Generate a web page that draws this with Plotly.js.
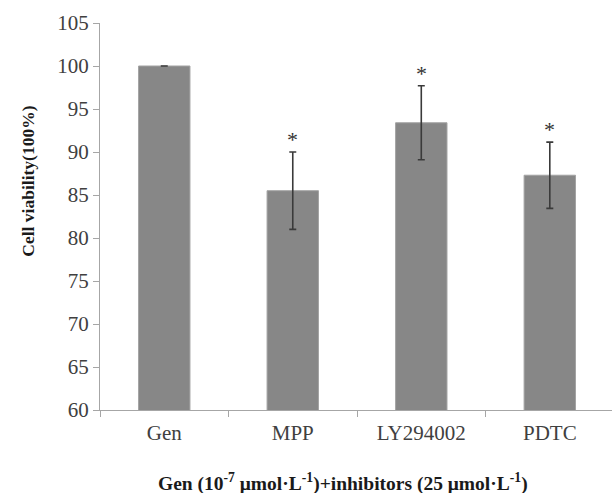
<!DOCTYPE html>
<html>
<head>
<meta charset="utf-8">
<script src="https://cdn.plot.ly/plotly-3.0.1.min.js"></script>
<style>html,body{margin:0;padding:0;background:#fff;}#chart{width:612px;height:493px;}</style>
</head>
<body>
<div id="chart"></div>
<script>
var categories = ["Gen", "MPP", "LY294002", "PDTC"];
var viability = [100, 85.5, 93.4, 87.3];
var errors = [0, 4.5, 4.3, 3.85];
var significant = [false, true, true, true];
var yTickValues = [60, 65, 70, 75, 80, 85, 90, 95, 100, 105];

var serif = "Liberation Serif, Times New Roman, serif";

var trace = {
  type: "bar",
  x: categories,
  y: viability,
  marker: {color: "#878787", line: {color: "#a3a3a3", width: 1}},
  error_y: {type: "data", array: errors, visible: true, color: "#3a3a3a", thickness: 1.6, width: 3.5},
  hoverinfo: "none"
};

var annotations = [];
categories.forEach(function (c, i) {
  if (significant[i]) {
    annotations.push({
      x: c, y: viability[i] + errors[i], xref: "x", yref: "y",
      text: "*", showarrow: false, yanchor: "bottom", yshift: -2,
      font: {family: serif, size: 22, color: "#333"}
    });
  }
});
annotations.push({
  xref: "paper", yref: "paper", x: 0.475, y: 0, yshift: -72, xanchor: "center", yanchor: "middle",
  text: "<b>Gen (10<sup>-7</sup> μmol·L<sup>-1</sup>)+inhibitors (25 μmol·L<sup>-1</sup>)</b>",
  showarrow: false, font: {family: serif, size: 19.5, color: "#1a1a1a"}
});
annotations.push({
  xref: "paper", yref: "paper", x: 0, xshift: -72, y: 0.59, xanchor: "center", yanchor: "middle",
  text: "<b>Cell viability(100%)</b>", textangle: -90,
  showarrow: false, font: {family: serif, size: 17.5, color: "#1a1a1a"}
});

var layout = {
  width: 612, height: 493,
  margin: {l: 100, r: 0, t: 23, b: 83},
  paper_bgcolor: "#fff", plot_bgcolor: "#fff",
  showlegend: false,
  bargap: 0.6,
  xaxis: {
    type: "category", range: [-0.5, 3.484],
    showgrid: false, zeroline: false,
    showline: true, linecolor: "#a6a6a6", linewidth: 1,
    ticks: "outside", tickson: "boundaries", ticklen: 6, tickcolor: "#a6a6a6",
    ticklabelstandoff: 4,
    tickfont: {family: serif, size: 21, color: "#404040"}
  },
  yaxis: {
    range: [60, 105], tickvals: yTickValues,
    showgrid: false, zeroline: false,
    showline: true, linecolor: "#a6a6a6", linewidth: 1,
    ticks: "outside", ticklen: 6, tickcolor: "#a6a6a6",
    tickfont: {family: serif, size: 21, color: "#404040"}
  },
  annotations: annotations
};

Plotly.newPlot("chart", [trace], layout, {staticPlot: true, displayModeBar: false});
</script>
</body>
</html>
